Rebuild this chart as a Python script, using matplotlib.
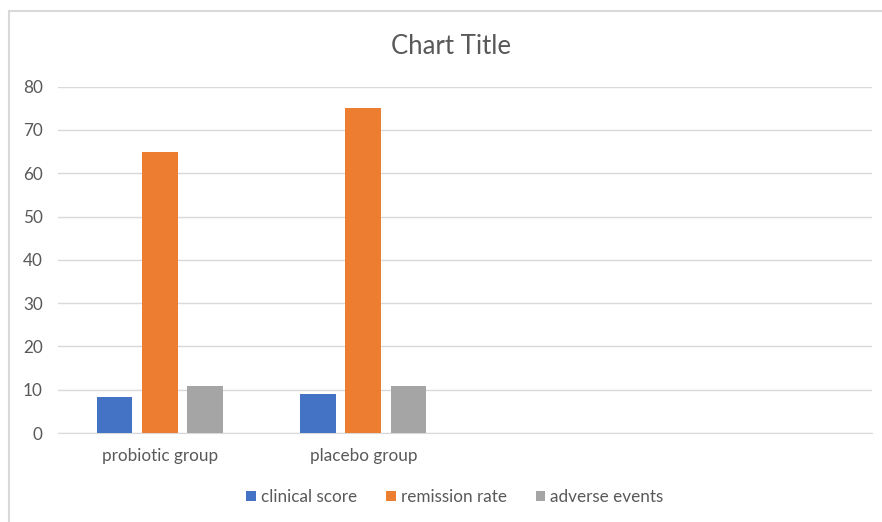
import matplotlib
matplotlib.use("Agg")
import matplotlib.pyplot as plt
from matplotlib.patches import Rectangle
import numpy as np

plt.rcParams['font.family'] = ['Lato', 'DejaVu Sans']

categories = ["probiotic group", "placebo group", "", ""]
series_names = ["clinical score", "remission rate", "adverse events"]
clinical_score = [8.4, 9.0, np.nan, np.nan]
remission_rate = [65, 75, np.nan, np.nan]
adverse_events = [10.9, 10.9, np.nan, np.nan]
y_ticks = [0, 10, 20, 30, 40, 50, 60, 70, 80]

colors = ["#4472C4", "#ED7D31", "#A5A5A5"]
text_color = "#595959"
grid_color = "#D9D9D9"

fig = plt.figure(figsize=(8.82, 5.22), dpi=100)
ax = fig.add_axes([58/882, 1-433/522, (872-58)/882, (433-86.7)/522])

x = np.arange(len(categories))
w = 0.176
step = 0.222
for i, (vals, name) in enumerate(zip([clinical_score, remission_rate, adverse_events], series_names)):
    ax.bar(x + (i-1)*step, vals, width=w, color=colors[i], label=name, zorder=3)

ax.set_xlim(-0.5, len(categories)-0.5)
ax.set_ylim(0, 80)
ax.set_yticks(y_ticks)
ax.set_xticks(x)
ax.set_xticklabels(categories)
ax.yaxis.grid(True, color=grid_color, linewidth=1)
ax.set_axisbelow(True)
for s in ["top", "right", "left"]:
    ax.spines[s].set_visible(False)
ax.spines["bottom"].set_color(grid_color)
ax.tick_params(axis="both", length=0, colors=text_color, labelsize=12.3)
ax.tick_params(axis="y", pad=11)
ax.tick_params(axis="x", pad=11)

fig.text(451/882, 1-46/522, "Chart Title", ha="center", va="center", fontsize=18.5, color=text_color)

leg = fig.legend(loc="center", bbox_to_anchor=(455/882, 1-497/522), ncol=3, frameon=False,
                 fontsize=12.3, handlelength=0.55, handleheight=0.55, handletextpad=0.3, columnspacing=1.7)
for t in leg.get_texts():
    t.set_color(text_color)

fig.patches.append(Rectangle((8.5/882, -0.05), 1.1, 1 - 10.5/522 + 0.05, transform=fig.transFigure,
                             fill=False, edgecolor=grid_color, linewidth=1.5, figure=fig))

fig.savefig("out.png", dpi=100, facecolor="white")
